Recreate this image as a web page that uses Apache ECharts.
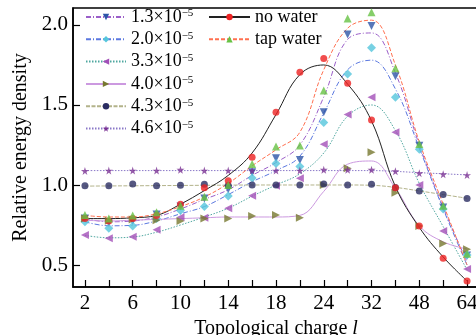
<!DOCTYPE html>
<html><head><meta charset="utf-8">
<script src="https://cdn.jsdelivr.net/npm/echarts@6/dist/echarts.min.js"></script>
</head><body style="margin:0"><div id="c" style="width:476px;height:335px"></div>
<script>
const xLabels = ['2','4','6','8','10','12','14','16','18','20','24','28','32','40','48','56','64'];
const yTicks = [0.5, 1.0, 1.5, 2.0];

// measured points (markers)
const m13  = [0.79,0.765,0.775,0.815,0.865,0.915,0.973,1.08,1.167,1.156,1.454,1.94,1.994,1.68,1.245,0.86,0.56];
const m20  = [0.77,0.73,0.744,0.79,0.84,0.865,0.931,1.044,1.135,1.115,1.39,1.694,1.858,1.548,1.223,0.85,0.5625];
const m33  = [0.687,0.667,0.677,0.72,0.798,0.796,0.854,0.933,0.995,1.042,1.254,1.44,1.548,1.329,1.0,0.7125,0.475];
const m40  = [0.79,0.777,0.785,0.78,0.775,0.79,0.79,0.806,0.812,0.796,1.0,1.104,1.204,0.952,0.744,0.635,0.598];
const m43  = [0.995,0.996,1.006,0.996,0.998,1.004,0.997,1.0,1.0,1.0,1.006,1.0,1.004,0.985,0.9625,0.94,0.916];
const m46  = [1.088,1.09,1.09,1.09,1.095,1.09,1.09,1.09,1.09,1.09,1.095,1.095,1.095,1.086,1.074,1.067,1.062];
const mNo  = [0.79,0.775,0.79,0.81,0.879,0.983,1.027,1.173,1.454,1.704,1.79,1.635,1.406,0.983,0.744,0.542,0.4];
const mTap = [0.8125,0.79,0.81,0.83,0.87,0.927,1.0,1.131,1.24,1.246,1.59,2.04,2.08,1.73,1.256,0.87,0.57];

// fitted curves
const c13  = [0.79,0.77,0.775,0.8,0.85,0.91,0.97,1.06,1.14,1.25,1.55,1.91,1.95,1.7,1.25,0.86,0.52];
const c20  = [0.77,0.745,0.748,0.775,0.82,0.865,0.94,1.02,1.09,1.18,1.45,1.72,1.78,1.6,1.23,0.85,0.5];
const c33  = [0.685,0.67,0.675,0.705,0.75,0.8,0.855,0.93,1.0,1.07,1.2,1.43,1.5,1.34,1.01,0.74,0.47];
const c40  = [0.78,0.775,0.78,0.785,0.79,0.795,0.8,0.8,0.8,0.81,0.96,1.13,1.15,0.98,0.745,0.645,0.6];
const c43  = [0.993,0.994,0.995,0.996,0.997,0.998,0.999,1.0,1.0,1.0,1.0,1.0,0.998,0.985,0.963,0.94,0.917];
const c46  = [1.09,1.09,1.09,1.09,1.09,1.09,1.09,1.09,1.09,1.09,1.09,1.09,1.09,1.085,1.077,1.07,1.063];
const cNo  = [0.79,0.79,0.795,0.81,0.88,0.965,1.06,1.2,1.44,1.69,1.75,1.63,1.4,0.99,0.735,0.55,0.4];
const cTap = [0.81,0.8,0.8,0.82,0.865,0.925,1.01,1.12,1.22,1.33,1.72,1.98,2.03,1.75,1.27,0.88,0.5];

const names1 = ['1.3', '2.0', '3.3', '4.0', '4.3', '4.6'];
const names2 = ['no water', 'tap water'];

const FONT = 'Liberation Serif';
const STAR = 'path://M50,0 L61,35 L98,35 L68,57 L79,91 L50,70 L21,91 L32,57 L2,35 L39,35 Z';

const defs = [
  {name:'1.3', curve:c13, pts:m13, line:'#9b5fc9', type:[5,2,1,2], mark:'#2d55a8', sym:'triangle', rot:180, size:8},
  {name:'2.0', curve:c20, pts:m20, line:'#5b78e0', type:[5,2,1,2], mark:'#55c6dc', sym:'diamond', rot:0, size:9},
  {name:'3.3', curve:c33, pts:m33, line:'#4fa7a0', type:[1.5,1.5], mark:'#a24fb8', sym:'triangle', rot:90, size:8},
  {name:'4.0', curve:c40, pts:m40, line:'#cc99e0', type:'solid', mark:'#77782f', sym:'triangle', rot:-90, size:8},
  {name:'4.3', curve:c43, pts:m43, line:'#b3b38a', type:[4,1.5], mark:'#2b2d62', sym:'circle', rot:0, size:7},
  {name:'4.6', curve:c46, pts:m46, line:'#8a78c8', type:[1.5,1.5], mark:'#7b3294', sym:STAR, rot:0, size:8},
  {name:'no water', curve:cNo, pts:mNo, line:'#222222', type:'solid', mark:'#ee2222', sym:'circle', rot:0, size:7},
  {name:'tap water', curve:cTap, pts:mTap, line:'#ff7050', type:[4,2], mark:'#66c244', sym:'triangle', rot:0, size:8}
];

const series = [];
defs.forEach(d => {
  series.push({
    name: d.name, type: 'line', data: d.curve, smooth: 0.4, showSymbol: false,
    symbol: d.sym, symbolRotate: d.rot, silent: true, z: 2,
    lineStyle: {color: d.line, width: 1, type: d.type},
    itemStyle: {color: d.mark}, emphasis: {disabled: true}
  });
});
defs.forEach(d => {
  series.push({
    name: d.name, type: 'scatter', data: d.pts, symbol: d.sym, symbolRotate: d.rot,
    symbolSize: d.size, itemStyle: {color: d.mark}, z: 5, silent: true, emphasis: {disabled: true}
  });
});

const legendBase = {
  orient: 'vertical', padding: 0, itemGap: 4.3, itemWidth: 40, itemHeight: 8,
  selectedMode: false, top: 8,
  textStyle: {fontFamily: FONT, fontSize: 18, color: '#000', lineHeight: 18,
    rich: {b: {fontFamily: FONT, fontSize: 18, color: '#000', lineHeight: 18},
           s: {fontFamily: FONT, fontSize: 11, color: '#000', lineHeight: 10, verticalAlign: 'top'}}}
};

const chart = echarts.init(document.getElementById('c'));
chart.setOption({
  animation: false,
  backgroundColor: '#fff',
  grid: {left: 73, top: 8, width: 406, height: 279, show: true, borderColor: '#000', borderWidth: 1.5,
         containLabel: false, outerBoundsMode: 'none'},
  legend: [
    Object.assign({}, legendBase, {left: 85, data: names1,
      formatter: n => '{b|' + n + '×10}{s|−5}'}),
    Object.assign({}, legendBase, {left: 208, itemWidth: 41, data: names2,
      formatter: n => n})
  ],
  xAxis: {
    type: 'category', data: xLabels, boundaryGap: true,
    name: '{n|Topological charge }{i|l}', nameLocation: 'middle', nameGap: 27,
    nameTextStyle: {fontFamily: FONT, fontSize: 20, rich: {n: {fontFamily: FONT, fontSize: 20, color: '#000'},
                           i: {fontFamily: FONT, fontSize: 20, color: '#000', fontStyle: 'italic'}}},
    axisLine: {show: true, lineStyle: {color: '#000', width: 1.5}},
    axisTick: {show: true, inside: true, alignWithLabel: true, interval: 0, length: 7,
               lineStyle: {color: '#000', width: 1.2}},
    axisLabel: {interval: 1, fontFamily: FONT, fontSize: 21, color: '#000', margin: 6},
    splitLine: {show: false}
  },
  yAxis: {
    type: 'value', min: 0.3625, max: 2.106,
    name: 'Relative energy density', nameLocation: 'middle', nameGap: 42, nameRotate: 90,
    nameTextStyle: {fontFamily: FONT, fontSize: 20, color: '#000'},
    axisLine: {show: true, lineStyle: {color: '#000', width: 1.5}},
    axisTick: {show: true, inside: true, length: 7, customValues: yTicks,
               lineStyle: {color: '#000', width: 1.2}},
    axisLabel: {customValues: yTicks, formatter: v => v.toFixed(1),
                fontFamily: FONT, fontSize: 21, color: '#000', margin: 5},
    splitLine: {show: false}
  },
  series: series
});
</script></body></html>
